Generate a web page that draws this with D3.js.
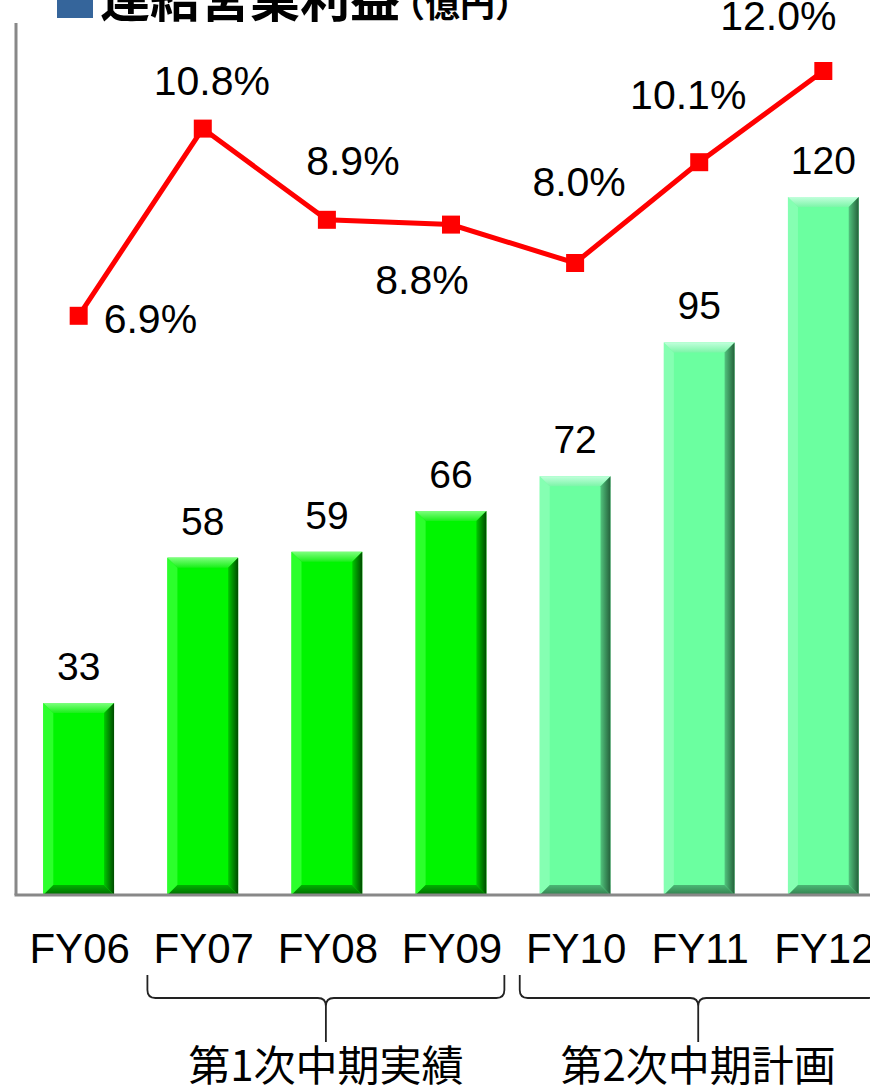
<!DOCTYPE html>
<html>
  <head>
    <meta charset="utf-8">
    <title>連結営業利益</title>
    <script src="https://cdn.jsdelivr.net/npm/d3@7"></script>
    <style>
      body { margin: 0; background: #fff; }
      text { font-family: "Liberation Sans", Arial, sans-serif; }
      .jp { font-family: "Noto Sans CJK JP", sans-serif; }
    </style>
  </head>
  <body>
    <svg width="870" height="1092" id="mainsvg"></svg>
    <script>
      // data
      const years = ['FY06', 'FY07', 'FY08', 'FY09', 'FY10', 'FY11', 'FY12'];
      const profit = [33, 58, 59, 66, 72, 95, 120];          // 億円
      const margin = [6.9, 10.8, 8.9, 8.8, 8.0, 10.1, 12.0];  // %
      const planned = [false, false, false, false, true, true, true];
      const periods = [
        {label: '第1次中期実績', from: 'FY07', to: 'FY09'},
        {label: '第2次中期計画', from: 'FY10', to: 'FY12'}
      ];
      // hand-placed % labels (dx, dy from the marker), like the original slide
      const pctNudge = [[25, 17, 'start'], [9, -34], [26, -45], [-29, 69], [4, -67], [-11, -53], [-45, -41]];

      const svg = d3.select('#mainsvg');
      const baseY = 895;
      const axisX = 16;

      const x = d3.scaleBand()
        .domain(years)
        .range([axisX, 886])
        .paddingInner(0.43)
        .paddingOuter(0.22);
      const y = d3.scaleLinear().domain([0, 120]).range([baseY, 197]);
      const yPct = d3.scaleLinear().domain([0, 12]).range([647, 71]);
      const bw = x.bandwidth();

      // gradients for the bevelled bars
      const defs = svg.append('defs');
      const mkGrad = (id, c1, c2, horiz) => {
        const g = defs.append('linearGradient').attr('id', id)
          .attr('x1', 0).attr('y1', 0).attr('x2', horiz ? 1 : 0).attr('y2', horiz ? 0 : 1);
        g.append('stop').attr('offset', 0).attr('stop-color', c1);
        g.append('stop').attr('offset', 1).attr('stop-color', c2);
      };
      const pal = {
        act: {base: '#00f500', top: ['#7dff7d', '#19f019'], right: ['#00c800', '#004a00'], bottom: ['#00b000', '#006a00'], left: '#2cff2c'},
        plan: {base: '#6bffa0', top: ['#c2ffdc', '#7cf5a8'], right: ['#52c47e', '#24603a'], bottom: ['#4ab774', '#33804f'], left: '#85ffb2'}
      };
      Object.entries(pal).forEach(([k, p]) => {
        mkGrad(k + '-top', p.top[0], p.top[1], false);
        mkGrad(k + '-right', p.right[0], p.right[1], true);
        mkGrad(k + '-bottom', p.bottom[0], p.bottom[1], false);
      });

      // axes lines
      svg.append('line').attr('x1', axisX).attr('x2', axisX).attr('y1', 23).attr('y2', baseY)
        .attr('stroke', '#888').attr('stroke-width', 3);

      // bars
      const bev = 10;
      const bars = svg.append('g').selectAll('g')
        .data(years.map((yr, i) => ({yr, v: profit[i], plan: planned[i]})))
        .join('g');
      bars.each(function(d) {
        const g = d3.select(this);
        const k = d.plan ? 'plan' : 'act';
        const x0 = x(d.yr), x1 = x0 + bw, y0 = y(d.v), y1 = baseY;
        g.append('rect').attr('x', x0).attr('y', y0).attr('width', bw).attr('height', y1 - y0)
          .attr('fill', pal[k].base);
        const poly = (pts, fill) => g.append('polygon')
          .attr('points', pts.map(p => p.join(',')).join(' ')).attr('fill', fill);
        poly([[x0, y0], [x0 + bev, y0 + bev], [x0 + bev, y1 - bev], [x0, y1]], pal[k].left);
        poly([[x0, y0], [x1, y0], [x1 - bev, y0 + bev], [x0 + bev, y0 + bev]], `url(#${k}-top)`);
        poly([[x1, y0], [x1, y1], [x1 - bev, y1 - bev], [x1 - bev, y0 + bev]], `url(#${k}-right)`);
        poly([[x0, y1], [x0 + bev, y1 - bev], [x1 - bev, y1 - bev], [x1, y1]], `url(#${k}-bottom)`);
      });
      bars.append('text')
        .attr('x', d => x(d.yr) + bw / 2)
        .attr('y', d => y(d.v) - 23)
        .attr('text-anchor', 'middle')
        .attr('font-size', 39)
        .attr('fill', '#000')
        .text(d => d.v);

      svg.append('line').attr('x1', axisX - 1.5).attr('x2', 870).attr('y1', baseY).attr('y2', baseY)
        .attr('stroke', '#888').attr('stroke-width', 3);

      // x labels
      svg.append('g').selectAll('text').data(years).join('text')
        .attr('x', d => x(d) + bw / 2 + 1)
        .attr('y', 963)
        .attr('text-anchor', 'middle')
        .attr('font-size', 42)
        .text(d => d);

      // margin line
      const cx = d => x(d) + bw / 2;
      const pts = years.map((yr, i) => ({yr, v: margin[i], i}));
      svg.append('path')
        .datum(pts)
        .attr('fill', 'none')
        .attr('stroke', '#ff0000')
        .attr('stroke-width', 5)
        .attr('d', d3.line().x(d => cx(d.yr)).y(d => yPct(d.v)));
      svg.append('g').selectAll('rect').data(pts).join('rect')
        .attr('x', d => cx(d.yr) - 9)
        .attr('y', d => yPct(d.v) - 9)
        .attr('width', 18).attr('height', 18)
        .attr('fill', '#ff0000');
      svg.append('g').selectAll('text').data(pts).join('text')
        .attr('x', d => cx(d.yr) + pctNudge[d.i][0])
        .attr('y', d => yPct(d.v) + pctNudge[d.i][1])
        .attr('text-anchor', d => pctNudge[d.i][2] || 'middle')
        .attr('font-size', 41)
        .text(d => d.v.toFixed(1) + '%');

      // period braces
      const braceTop = 975, braceMid = 998, braceTip = 1042;
      periods.forEach(p => {
        const xa = x(p.from) - 20;
        const xb = x(p.to) + bw + 18;
        const xc = (xa + xb) / 2;
        const path = d3.path();
        path.moveTo(xa, braceTop);
        path.lineTo(xa, braceMid - 8);
        path.quadraticCurveTo(xa, braceMid, xa + 8, braceMid);
        path.lineTo(xc - 8, braceMid);
        path.quadraticCurveTo(xc, braceMid, xc, braceMid + 8);
        path.lineTo(xc, braceTip);
        path.moveTo(xc, braceMid + 8);
        path.quadraticCurveTo(xc, braceMid, xc + 8, braceMid);
        path.lineTo(xb - 8, braceMid);
        path.quadraticCurveTo(xb, braceMid, xb, braceMid - 8);
        path.lineTo(xb, braceTop);
        svg.append('path').attr('d', path.toString())
          .attr('fill', 'none').attr('stroke', '#222').attr('stroke-width', 1.8);
        svg.append('text').attr('class', 'jp')
          .attr('x', xc).attr('y', 1081)
          .attr('text-anchor', 'middle')
          .attr('font-size', 42)
          .text(p.label);
      });

      // title (cut off at the top, as in the slide)
      svg.append('rect').attr('x', 57).attr('y', -18).attr('width', 36).attr('height', 36)
        .attr('fill', '#35659b');
      const title = svg.append('text').attr('class', 'jp')
        .attr('x', 100).attr('y', 17)
        .attr('font-weight', 'bold');
      title.append('tspan').attr('font-size', 50).text('連結営業利益');
      title.append('tspan').attr('font-size', 35).attr('dx', -10).text('（億円）');
    </script>
  </body>
</html>
